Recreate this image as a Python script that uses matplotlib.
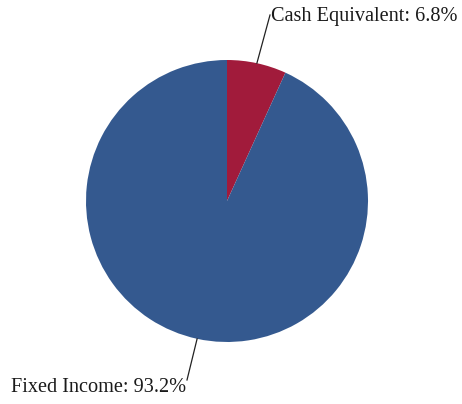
import numpy as np
import matplotlib.pyplot as plt

# data
labels = ['Cash Equivalent', 'Fixed Income']
shares = [6.8, 93.2]
colors = ['#A11B3B', '#34598F']

fig = plt.figure(figsize=(4.62, 4.04), dpi=100)
ax = fig.add_axes([0, 0, 1, 1])

cx, cy, r = 227, 203, 141
ax.pie(shares, colors=colors, startangle=90, counterclock=False,
       center=(cx, cy), radius=r, frame=True,
       wedgeprops=dict(linewidth=0))
ax.set_xlim(0, 462)
ax.set_ylim(0, 404)
ax.set_aspect('equal')
ax.axis('off')

# leader lines and labels
ends = [(270, 389), (187, 24)]
text_pos = [(271, 388, 'left', 'center'), (186, 16, 'right', 'center')]
start = 0
for lab, val, (ex, ey), (tx, ty, ha, va) in zip(labels, shares, ends, text_pos):
    mid = np.deg2rad((start + val / 2) / 100 * 360)
    start += val
    px = cx + r * np.sin(mid)
    py = cy + r * np.cos(mid)
    ax.plot([px, ex], [py, ey], color='#222222', lw=0.9)
    ax.text(tx, ty, f'{lab}: {val}%', ha=ha, va=va, fontsize=14.6,
            family='Liberation Serif', color='#1a1a1a')

fig.savefig('out.png', dpi=100)
